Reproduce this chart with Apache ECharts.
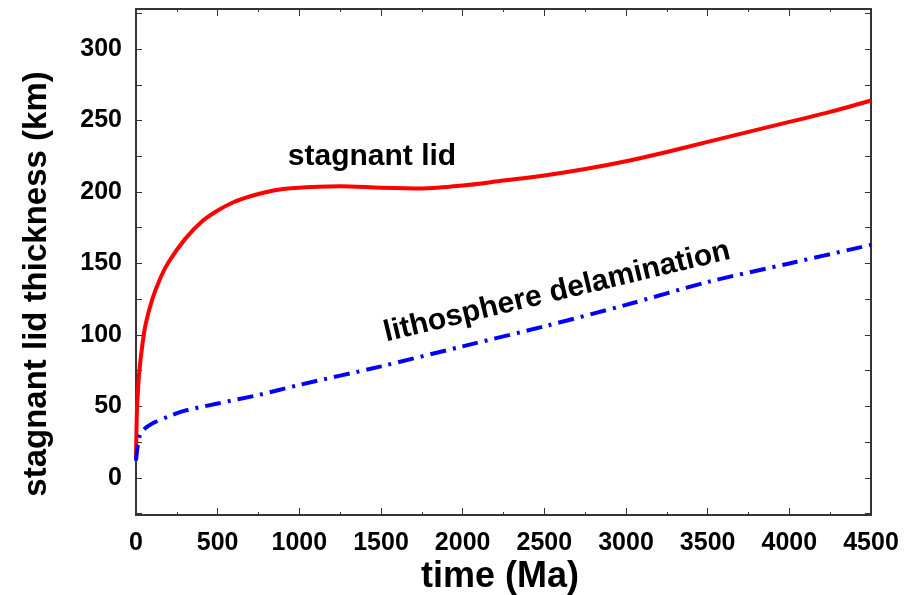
<!DOCTYPE html>
<html lang="en" style="height: 100%">
<head>
    <meta charset="utf-8">
    <title>stagnant lid thickness</title>
    <script src="https://cdn.jsdelivr.net/npm/echarts@6/dist/echarts.min.js"></script>
</head>
<body style="height: 100%; margin: 0; background: #fff">
    <div id="main" style="width: 908px; height: 595px"></div>
    <script>
        // time (Ma) / thickness (km)
        const lidTime = [0, 5, 10, 20, 40, 60, 100, 150, 200, 300, 400, 500, 600, 700, 800, 900, 1000,
            1250, 1500, 1750, 2000, 2250, 2500, 2750, 3000, 3250, 3500, 3750, 4000, 4250, 4500];
        const lidThickness = [13, 45, 57, 74, 94, 108, 125, 140, 151, 167, 179, 187, 193, 197, 200, 202, 203,
            204, 203, 202.5, 204.5, 208, 211.5, 216, 221.5, 228, 235, 242, 249, 256, 264];

        const delamTime = [0, 10, 25, 50, 100, 200, 300, 500, 750, 1000, 1500, 2000, 2500, 3000, 3500, 4000, 4500];
        const delamThickness = [12, 22, 30, 34, 38, 43, 47, 52, 58, 65, 78, 92, 106, 121, 137, 150, 163];

        const yTicks = [-25, 0, 25, 50, 75, 100, 125, 150, 175, 200, 225, 250, 275, 300, 325];
        const yLabels = [0, 50, 100, 150, 200, 250, 300];

        const font = 'Liberation Sans, Arial, sans-serif';
        const zip = (xs, ys) => xs.map((x, i) => [x, ys[i]]);

        const chart = echarts.init(document.getElementById('main'), null, { renderer: 'canvas' });

        const axisLine = { show: true, onZero: false, lineStyle: { color: '#333', width: 2 } };
        const xBase = {
            type: 'value', min: 0, max: 4500, interval: 500,
            axisLine: axisLine,
            axisTick: { inside: true, length: 7, lineStyle: { color: '#333', width: 1 } },
            minorTick: { show: true, splitNumber: 2, length: 3, lineStyle: { color: '#333', width: 1 } },
            splitLine: { show: false }
        };
        const yBase = {
            type: 'value', min: -26, max: 328,
            axisLine: axisLine,
            axisTick: { inside: true, length: 6, customValues: yTicks, lineStyle: { color: '#333', width: 1 } },
            splitLine: { show: false }
        };
        const labelStyle = { fontFamily: font, fontWeight: 'bold', fontSize: 25, color: '#000' };

        chart.setOption({
            animation: false,
            grid: { left: 136, right: 37, top: 9, bottom: 80, outerBoundsMode: 'none' },
            xAxis: [
                Object.assign({}, xBase, {
                    position: 'bottom',
                    axisLabel: Object.assign({
                        margin: 16, showMinLabel: true, showMaxLabel: true,
                        formatter: v => String(v)
                    }, labelStyle)
                }),
                Object.assign({}, xBase, { position: 'top', axisLabel: { show: false } })
            ],
            yAxis: [
                Object.assign({}, yBase, {
                    position: 'left',
                    axisLabel: Object.assign({ customValues: yLabels, margin: 14, formatter: v => String(v) }, labelStyle)
                }),
                Object.assign({}, yBase, { position: 'right', axisLabel: { show: false } })
            ],
            series: [
                {
                    name: 'stagnant lid',
                    type: 'line',
                    data: zip(lidTime, lidThickness),
                    smooth: 0.3,
                    showSymbol: false,
                    lineStyle: { color: '#ff0000', width: 4 }
                },
                {
                    name: 'lithosphere delamination',
                    type: 'line',
                    data: zip(delamTime, delamThickness),
                    smooth: 0.3,
                    showSymbol: false,
                    lineStyle: { color: '#0000ff', width: 4, type: [16, 7, 3, 7], cap: 'butt' }
                }
            ],
            graphic: [
                {
                    type: 'text',
                    position: [500, 577],
                    style: {
                        text: 'time (Ma)', align: 'center', verticalAlign: 'middle',
                        font: 'bold 36px ' + font, fill: '#000'
                    }
                },
                {
                    type: 'text',
                    position: [37, 284],
                    rotation: Math.PI / 2,
                    style: {
                        text: 'stagnant lid thickness (km)', align: 'center', verticalAlign: 'middle',
                        font: 'bold 33px ' + font, fill: '#000'
                    }
                },
                {
                    type: 'text',
                    position: [372, 157],
                    style: {
                        text: 'stagnant lid', align: 'center', verticalAlign: 'middle',
                        font: 'bold 30px ' + font, fill: '#000'
                    }
                },
                {
                    type: 'text',
                    position: [557, 292],
                    rotation: 13.5 * Math.PI / 180,
                    style: {
                        text: 'lithosphere delamination', align: 'center', verticalAlign: 'middle',
                        font: 'bold 30px ' + font, fill: '#000'
                    }
                }
            ]
        });
    </script>
</body>
</html>
